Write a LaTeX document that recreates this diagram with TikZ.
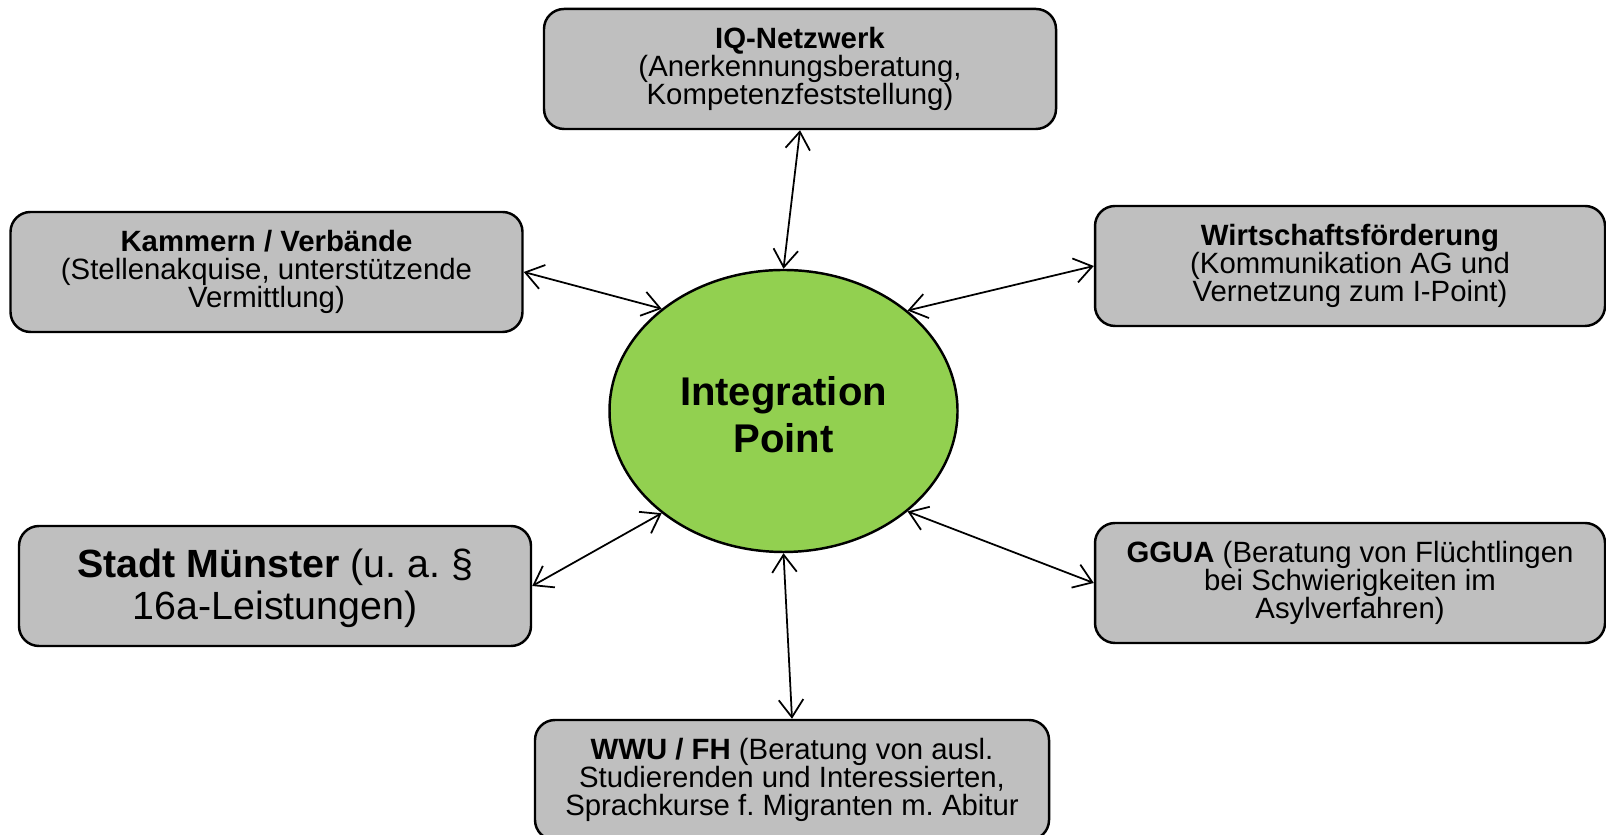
\documentclass[tikz,border=0pt]{standalone}
\usepackage{fontspec}
\setmainfont{Liberation Sans}
\usepackage{tikz}
\usetikzlibrary{positioning, arrows.meta, shapes.geometric}
\definecolor{boxgray}{RGB}{191,191,191}
\definecolor{ipgreen}{RGB}{146,208,80}
\frenchspacing
\tikzset{>={Straight Barb[length=5pt,width=7pt]}}
\tikzset{partner/.style={draw, line width=0.7pt, rounded corners=0.2cm, fill=boxgray,
    minimum width=5.12cm, minimum height=1.2cm, align=center, inner sep=0pt,
    font=\fontsize{8.35}{8.0}\selectfont}}

\begin{document}
\begin{tikzpicture}
\useasboundingbox (0,0) rectangle (16.06,8.35);

% centre
\node[ellipse, draw, line width=0.7pt, fill=ipgreen, minimum width=3.48cm, minimum height=2.82cm,
  align=center, font=\fontsize{11.4}{13.4}\selectfont\bfseries] (ip) at (7.835,4.24) {\rule{0pt}{0.36cm}Integration\\Point};

% partner boxes
\node[partner] (iq) at (8.0,7.66) {\textbf{IQ-Netzwerk}\\(Anerkennungsberatung,\\Kompetenzfeststellung)};
\node[partner] (kam) at (2.665,5.63) {\textbf{Kammern / Verbände}\\(Stellenakquise, unterstützende\\Vermittlung)};
\node[partner, minimum width=5.1cm] (wirt) at (13.5,5.69) {\textbf{Wirtschaftsförderung}\\(Kommunikation AG und\\Vernetzung zum I-Point)};
\node[partner, font=\fontsize{11.2}{11.8}\selectfont] (stadt) at (2.75,2.49) {\rule{0pt}{0.33cm}\textbf{Stadt Münster} (u. a. §\\16a-Leistungen)};
\node[partner, minimum width=5.1cm] (ggua) at (13.5,2.52) {\textbf{GGUA} (Beratung von Flüchtlingen\\bei Schwierigkeiten im\\Asylverfahren)};
\node[partner, minimum width=5.14cm] (wwu) at (7.92,0.55) {\textbf{WWU / FH} (Beratung von ausl.\\Studierenden und Interessierten,\\Sprachkurse f. Migranten m. Abitur};

% connectors
\foreach \from/\to in {iq.south/ip.north, kam.east/ip.140.5, wirt.west/ip.39,
  stadt.east/ip.220, ggua.west/ip.321, wwu.north/ip.south}
\draw[<->, line width=0.5pt] (\from) -- (\to);
\end{tikzpicture}
\end{document}
